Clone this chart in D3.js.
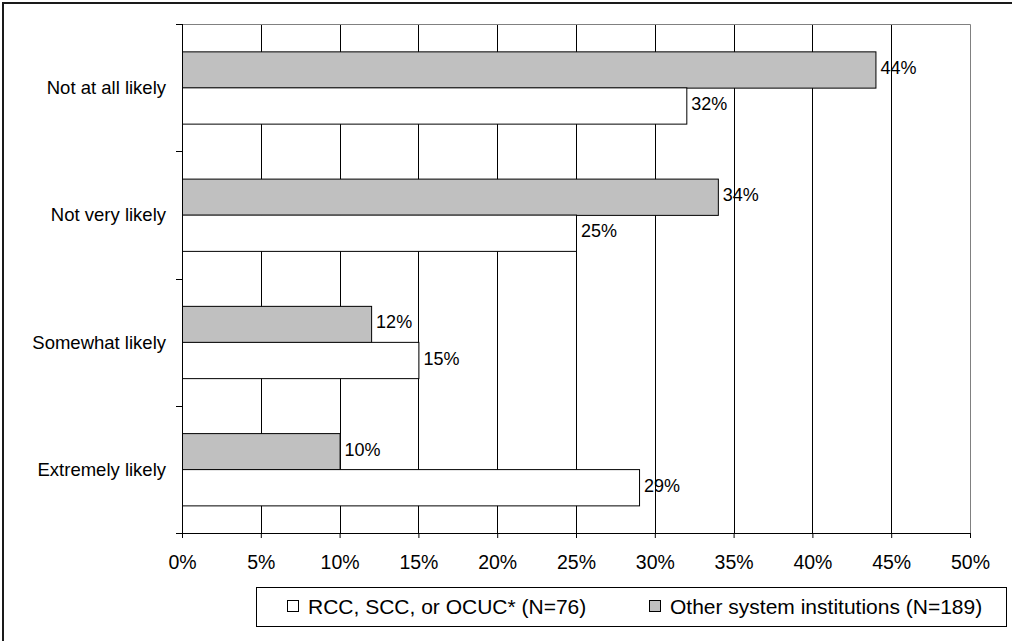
<!DOCTYPE html>
<html>
<head>
<meta charset="utf-8">
<script src="https://cdn.jsdelivr.net/npm/d3@7"></script>
<style>
  html, body { margin: 0; padding: 0; background: #fff; }
  svg { display: block; font-family: "Liberation Sans", Arial, sans-serif; }
</style>
</head>
<body>
<svg id="chart" width="1012" height="641"></svg>
<script>
// Likelihood categories, top to bottom
const categories = ["Not at all likely", "Not very likely", "Somewhat likely", "Extremely likely"];
// Percentages per group
const rccValues = [32, 25, 15, 29];     // RCC, SCC, or OCUC* (N=76)
const otherValues = [44, 34, 12, 10];   // Other system institutions (N=189)
const seriesNames = ["RCC, SCC, or OCUC* (N=76)", "Other system institutions (N=189)"];
const xTicks = [0, 5, 10, 15, 20, 25, 30, 35, 40, 45, 50];

const svg = d3.select("#chart");

// Frame around the whole figure
svg.append("rect")
  .attr("x", 3).attr("y", 3)
  .attr("width", 1100).attr("height", 700)
  .attr("fill", "none").attr("stroke", "#1a1a1a").attr("stroke-width", 2);

const plot = { left: 182, right: 970, top: 24, bottom: 533 };

const x = d3.scaleLinear().domain([0, 50]).range([plot.left, plot.right]);
const y = d3.scaleBand().domain(categories)
  .range([plot.top, plot.bottom]).paddingInner(0.43).paddingOuter(0.215);
const inner = d3.scaleBand().domain(["other", "rcc"]).range([0, y.bandwidth()]);

const rows = categories.map((c, i) => ({ cat: c, other: otherValues[i], rcc: rccValues[i] }));
const fills = { other: "#c0c0c0", rcc: "#ffffff" };

// Vertical gridlines
svg.append("g").selectAll("line")
  .data(xTicks.filter(t => t > 0 && t < 50))
  .join("line")
  .attr("x1", d => Math.round(x(d)) + 0.5).attr("x2", d => Math.round(x(d)) + 0.5)
  .attr("y1", plot.top).attr("y2", plot.bottom)
  .attr("stroke", "#000").attr("stroke-width", 1);

// Plot area top/right border
svg.append("path")
  .attr("d", `M${plot.left},${plot.top + 0.5}H${plot.right + 0.5}V${plot.bottom}`)
  .attr("fill", "none").attr("stroke", "#808080").attr("stroke-width", 1);

// Bars
const groups = svg.append("g").selectAll("g")
  .data(rows).join("g")
  .attr("transform", d => `translate(0,${y(d.cat)})`);

["other", "rcc"].forEach(key => {
  groups.append("rect")
    .attr("x", plot.left + 0.5)
    .attr("y", Math.round(inner(key)) + 0.5)
    .attr("width", d => x(d[key]) - plot.left)
    .attr("height", inner.bandwidth())
    .attr("fill", fills[key])
    .attr("stroke", "#000").attr("stroke-width", 1);

  groups.append("text")
    .attr("x", d => x(d[key]) + 5)
    .attr("y", inner(key) + inner.bandwidth() / 2 + 4.5)
    .attr("font-size", 18)
    .attr("fill", "#000")
    .text(d => d[key] + "%");
});

// Y axis (category boundaries as ticks)
const yAxis = svg.append("g");
yAxis.append("line")
  .attr("x1", plot.left + 0.5).attr("x2", plot.left + 0.5)
  .attr("y1", plot.top).attr("y2", plot.bottom)
  .attr("stroke", "#000");
const bounds = d3.range(categories.length + 1).map(i => plot.top + i * y.step());
yAxis.selectAll("line.tick").data(bounds).join("line").attr("class", "tick")
  .attr("x1", plot.left - 6).attr("x2", plot.left)
  .attr("y1", d => Math.round(d) + 0.5).attr("y2", d => Math.round(d) + 0.5)
  .attr("stroke", "#000");
yAxis.selectAll("text").data(categories).join("text")
  .attr("x", 166)
  .attr("y", d => y(d) + y.bandwidth() / 2 + 6.5)
  .attr("text-anchor", "end")
  .attr("font-size", 18.5)
  .attr("fill", "#000")
  .text(d => d);

// X axis
const xAxis = svg.append("g")
  .attr("transform", `translate(0,${plot.bottom})`)
  .call(d3.axisBottom(x).tickValues(xTicks).tickFormat(d => d + "%").tickSize(5).tickPadding(17));
xAxis.select(".domain").attr("stroke", "#000").attr("d", `M${plot.left - 6},0.5H${plot.right}`);
xAxis.selectAll(".tick line").attr("stroke", "#000");
xAxis.selectAll("text")
  .attr("font-size", 19.5)
  .attr("font-family", "Liberation Sans, Arial, sans-serif")
  .attr("fill", "#000");

// Legend
const legend = svg.append("g");
legend.append("rect")
  .attr("x", 256.5).attr("y", 587.5).attr("width", 750).attr("height", 39)
  .attr("fill", "#fff").attr("stroke", "#000").attr("stroke-width", 1);
const legendItems = [
  { name: seriesNames[0], fill: fills.rcc, x: 287 },
  { name: seriesNames[1], fill: fills.other, x: 649 }
];
const li = legend.selectAll("g.item").data(legendItems).join("g").attr("class", "item");
li.append("rect")
  .attr("x", d => d.x + 0.5).attr("y", 600.5)
  .attr("width", 11).attr("height", 11)
  .attr("fill", d => d.fill).attr("stroke", "#000");
li.append("text")
  .attr("x", d => d.x + 21).attr("y", 614)
  .attr("font-size", 21)
  .attr("fill", "#000")
  .text(d => d.name);
</script>
</body>
</html>
